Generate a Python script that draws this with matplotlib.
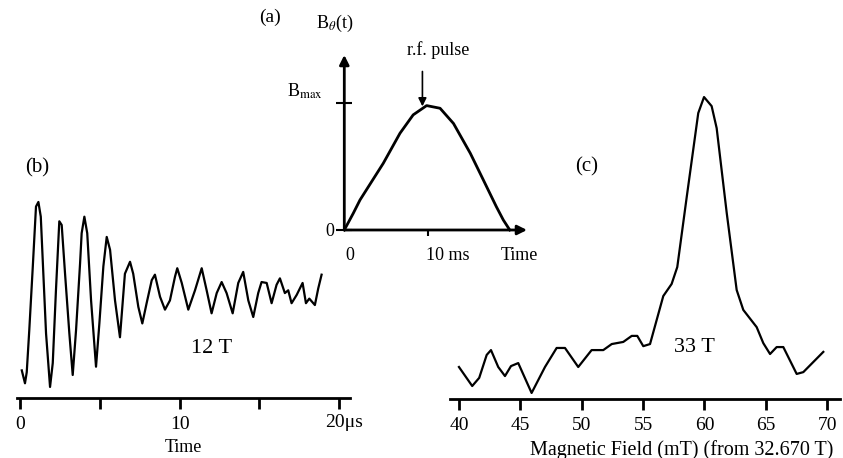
import matplotlib
matplotlib.use('Agg')
import matplotlib.pyplot as plt

plt.rcParams['font.family'] = 'Liberation Serif'
plt.rcParams['mathtext.fontset'] = 'stix'

# (a) field pulse B(t), time in ms, field in units of Bmax
t_pulse = [0, 1.07, 1.87, 4.64, 6.63, 8.2, 9.8, 11.4, 13.0, 15.0, 16.55, 18.1, 18.93, 19.7]
b_pulse = [0, 0.132, 0.237, 0.526, 0.763, 0.908, 0.981, 0.96, 0.84, 0.605, 0.395, 0.184, 0.079, 0]

# (b) free induction decay at 12 T, time in microseconds, normalised signal
t_fid = [0.11, 0.31, 0.42, 0.58, 0.80, 1.00, 1.15, 1.30, 1.46, 1.63, 1.88, 2.05, 2.25, 2.46,
         2.61, 2.82, 3.09, 3.30, 3.51, 3.76, 3.86, 4.03, 4.21, 4.45, 4.76, 4.97, 5.22, 5.43,
         5.64, 5.95, 6.26, 6.57, 6.89, 7.09, 7.41, 7.66, 7.93, 8.25, 8.45, 8.77, 9.08, 9.39,
         9.71, 9.85, 10.13, 10.54, 10.96, 11.38, 11.69, 12.00, 12.32, 12.63, 12.94, 13.32,
         13.67, 13.98, 14.30, 14.61, 14.92, 15.13, 15.45, 15.76, 16.07, 16.28, 16.59, 16.80,
         17.01, 17.33, 17.70, 17.91, 18.12, 18.47, 18.68, 18.89]
s_fid = [-0.84, -0.98, -0.86, -0.40, 0.29, 0.94, 0.99, 0.83, 0.21, -0.44, -1.02, -0.76, 0.03,
         0.78, 0.74, 0.21, -0.44, -0.89, -0.40, 0.32, 0.65, 0.83, 0.65, -0.08, -0.80, -0.33,
         0.29, 0.61, 0.47, -0.08, -0.48, 0.21, 0.34, 0.21, -0.15, -0.33, -0.11, 0.14, 0.20,
         -0.04, -0.18, -0.08, 0.18, 0.27, 0.11, -0.18, 0.03, 0.27, 0.03, -0.22, 0.00, 0.12,
         0.00, -0.22, 0.11, 0.23, -0.08, -0.26, 0.00, 0.12, 0.11, -0.11, 0.09, 0.16, 0.00,
         0.03, -0.11, -0.02, 0.11, -0.11, -0.06, -0.13, 0.05, 0.20]

# (c) spectrum at 33 T, field offset in mT, normalised intensity
field_mt = [40.0, 41.08, 41.65, 42.26, 42.61, 43.20, 43.75, 44.24, 44.83, 45.92, 47.01, 47.96,
            48.64, 49.72, 50.81, 51.76, 52.45, 53.39, 54.08, 54.53, 55.02, 55.57, 56.65, 57.33,
            57.79, 58.56, 59.50, 59.97, 60.59, 61.00, 61.82, 62.63, 63.17, 64.26, 64.80, 65.35,
            65.89, 66.43, 67.52, 68.06, 69.69]
intensity = [0.106, 0.043, 0.070, 0.146, 0.162, 0.106, 0.076, 0.109, 0.119, 0.020, 0.106,
             0.169, 0.169, 0.106, 0.162, 0.162, 0.182, 0.189, 0.209, 0.209, 0.175, 0.182,
             0.341, 0.381, 0.437, 0.669, 0.947, 1.000, 0.970, 0.897, 0.616, 0.361, 0.295,
             0.238, 0.185, 0.149, 0.172, 0.172, 0.083, 0.089, 0.156]

W, H = 843, 458
fig = plt.figure(figsize=(W / 100, H / 100), dpi=100)


def box(x0, y0, x1, y1):
    # pixel box (top-left origin) -> figure fraction rect
    return [x0 / W, 1 - y1 / H, (x1 - x0) / W, (y1 - y0) / H]


# ---- panel (b)
ax_b = fig.add_axes(box(17, 190, 350, 398))
ax_b.plot(t_fid, s_fid, color='black', lw=1.6)
ax_b.set_xlim(-0.19, 20.67)
ax_b.set_ylim(-1.14, 1.12)
for side in ['left', 'right', 'top']:
    ax_b.spines[side].set_visible(False)
ax_b.spines['bottom'].set_linewidth(2)
ax_b.set_yticks([])
ax_b.set_xticks([0, 5, 10, 15, 20])
ax_b.set_xticklabels(['0', '', '10', '', ''])
ax_b.tick_params(axis='x', direction='out', length=8, width=2, labelsize=14, pad=5)
ax_b.text(19.1, -0.12, '20μs', transform=ax_b.get_xaxis_transform(),
          fontsize=14, ha='left', va='center')
ax_b.set_xlabel('Time', fontsize=13, labelpad=4)
ax_b.text(1.06, 1.36, '(b)', fontsize=15, ha='center', va='center')
ax_b.text(12.0, -0.6, '12 T', fontsize=16, ha='center', va='center')

# ---- panel (c)
ax_c = fig.add_axes(box(450, 88, 840, 399))
ax_c.plot(field_mt, intensity, color='black', lw=1.6)
ax_c.set_xlim(39.27, 71.05)
ax_c.set_ylim(0, 1.03)
for side in ['left', 'right', 'top']:
    ax_c.spines[side].set_visible(False)
ax_c.spines['bottom'].set_linewidth(2)
ax_c.set_yticks([])
ax_c.set_xticks([40, 45, 50, 55, 60, 65, 70])
ax_c.tick_params(axis='x', direction='out', length=8, width=2, labelsize=14, pad=5)
ax_c.set_xlabel('Magnetic Field (mT) (from 32.670 T)', fontsize=14.5, labelpad=4)
ax_c.xaxis.label.set_x(0.595)
ax_c.text(50.4, 0.77, '(c)', fontsize=15, ha='center', va='center')
ax_c.text(59.2, 0.17, '33 T', fontsize=16, ha='center', va='center')

# ---- panel (a) inset
ax_a = fig.add_axes(box(344.3, 55, 527, 230))
ax_a.patch.set_visible(False)
ax_a.plot(t_pulse, b_pulse, color='black', lw=2, clip_on=False)
ax_a.set_xlim(0, 21.75)
ax_a.set_ylim(0, 1.38)
for side in ax_a.spines:
    ax_a.spines[side].set_visible(False)
arrow = dict(arrowstyle='-|>', lw=2, color='black', mutation_scale=14, shrinkA=0, shrinkB=0)
ax_a.annotate('', xy=(1, 0), xytext=(0, 0), xycoords='axes fraction', arrowprops=arrow)
ax_a.annotate('', xy=(0, 1), xytext=(0, 0), xycoords='axes fraction', arrowprops=arrow)
ax_a.set_yticks([0, 1])
ax_a.set_yticklabels(['0', ''])
ax_a.tick_params(axis='y', direction='inout', length=12, width=1.5, labelsize=13, pad=1)
ax_a.set_xticks([10])
ax_a.set_xticklabels([''])
ax_a.tick_params(axis='x', direction='out', length=4, width=1.5)
ax_a.text(-4.7, 1.09, 'B$_{\\mathrm{max}}$', fontsize=13, ha='center', va='center')
ax_a.text(0.6, -0.2, '0', fontsize=13, ha='center', va='center')
ax_a.text(12.35, -0.2, '10 ms', fontsize=13, ha='center', va='center')
ax_a.text(20.8, -0.2, 'Time', fontsize=13, ha='center', va='center')
ax_a.text(-1.1, 1.63, 'B$_{\\theta}$(t)', fontsize=13, ha='center', va='center', clip_on=False)
ax_a.text(-8.8, 1.68, '(a)', fontsize=14, ha='center', va='center', clip_on=False)
ax_a.text(11.2, 1.42, 'r.f. pulse', fontsize=13, ha='center', va='center', clip_on=False)
ax_a.annotate('', xy=(9.3, 0.975), xytext=(9.3, 1.25),
              arrowprops=dict(arrowstyle='-|>', lw=1.2, color='black', mutation_scale=12,
                              shrinkA=0, shrinkB=0))

fig.savefig('out.png', dpi=100)
